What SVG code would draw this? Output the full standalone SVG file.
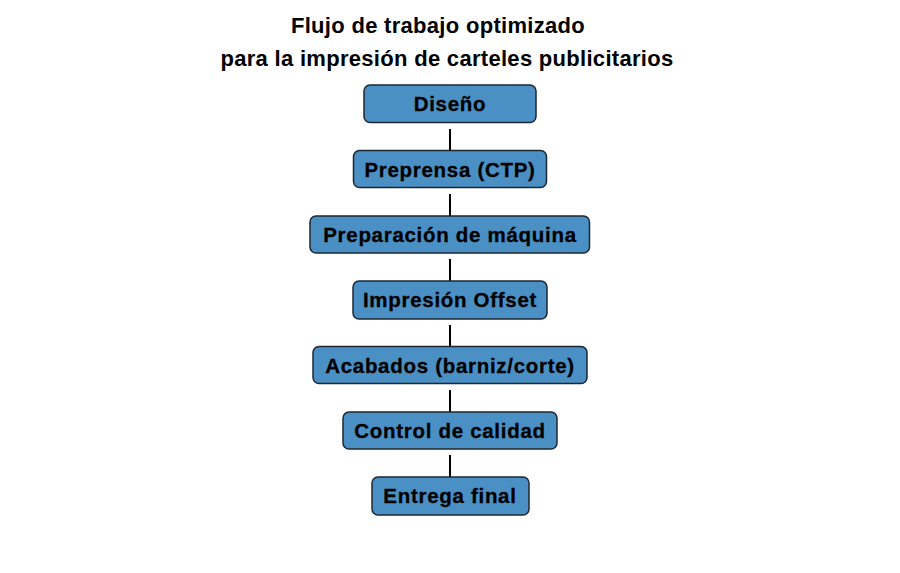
<svg xmlns="http://www.w3.org/2000/svg" width="900" height="573" viewBox="0 0 900 573">
<style>
.title{font-family:"Liberation Sans",Arial,sans-serif;font-weight:bold;font-size:22px;fill:#000;text-anchor:middle;letter-spacing:0.3px}
.box{fill:#4a90c5;stroke:#1c2733;stroke-width:1.5}
.lbl{font-family:"Liberation Sans",Arial,sans-serif;font-weight:bold;font-size:20.5px;fill:#000;stroke:#000;stroke-width:0.3;text-anchor:middle;letter-spacing:0.7px}
.conn{stroke:#000;stroke-width:2;fill:none}
</style>
<rect width="900" height="573" fill="#fff"/>
<text class="title" x="438" y="33">Flujo de trabajo optimizado</text>
<text class="title" x="447" y="66">para la impresión de carteles publicitarios</text>
<g id="connectors">
<line class="conn" x1="450" y1="129" x2="450" y2="150.5"/>
<line class="conn" x1="450" y1="194" x2="450" y2="216"/>
<line class="conn" x1="450" y1="259" x2="450" y2="281"/>
<line class="conn" x1="450" y1="325" x2="450" y2="346.5"/>
<line class="conn" x1="450" y1="390" x2="450" y2="412"/>
<line class="conn" x1="450" y1="455" x2="450" y2="477"/>
</g>
<g id="n1"><rect class="box" x="364" y="85" width="172" height="37.5" rx="6"/><text class="lbl" x="450" y="111">Diseño</text></g>
<g id="n2"><rect class="box" x="353.5" y="150.5" width="193" height="37" rx="6"/><text class="lbl" x="450" y="176.5">Preprensa (CTP)</text></g>
<g id="n3"><rect class="box" x="310" y="216" width="279.5" height="37" rx="6"/><text class="lbl" x="450" y="242">Preparación de máquina</text></g>
<g id="n4"><rect class="box" x="353" y="281" width="194" height="38" rx="6"/><text class="lbl" x="450" y="307">Impresión Offset</text></g>
<g id="n5"><rect class="box" x="313" y="346.5" width="274" height="37" rx="6"/><text class="lbl" x="450" y="372.5">Acabados (barniz/corte)</text></g>
<g id="n6"><rect class="box" x="343" y="412" width="214" height="37" rx="6"/><text class="lbl" x="450" y="438">Control de calidad</text></g>
<g id="n7"><rect class="box" x="372" y="477" width="157" height="38" rx="6"/><text class="lbl" x="450" y="503">Entrega final</text></g>
</svg>
